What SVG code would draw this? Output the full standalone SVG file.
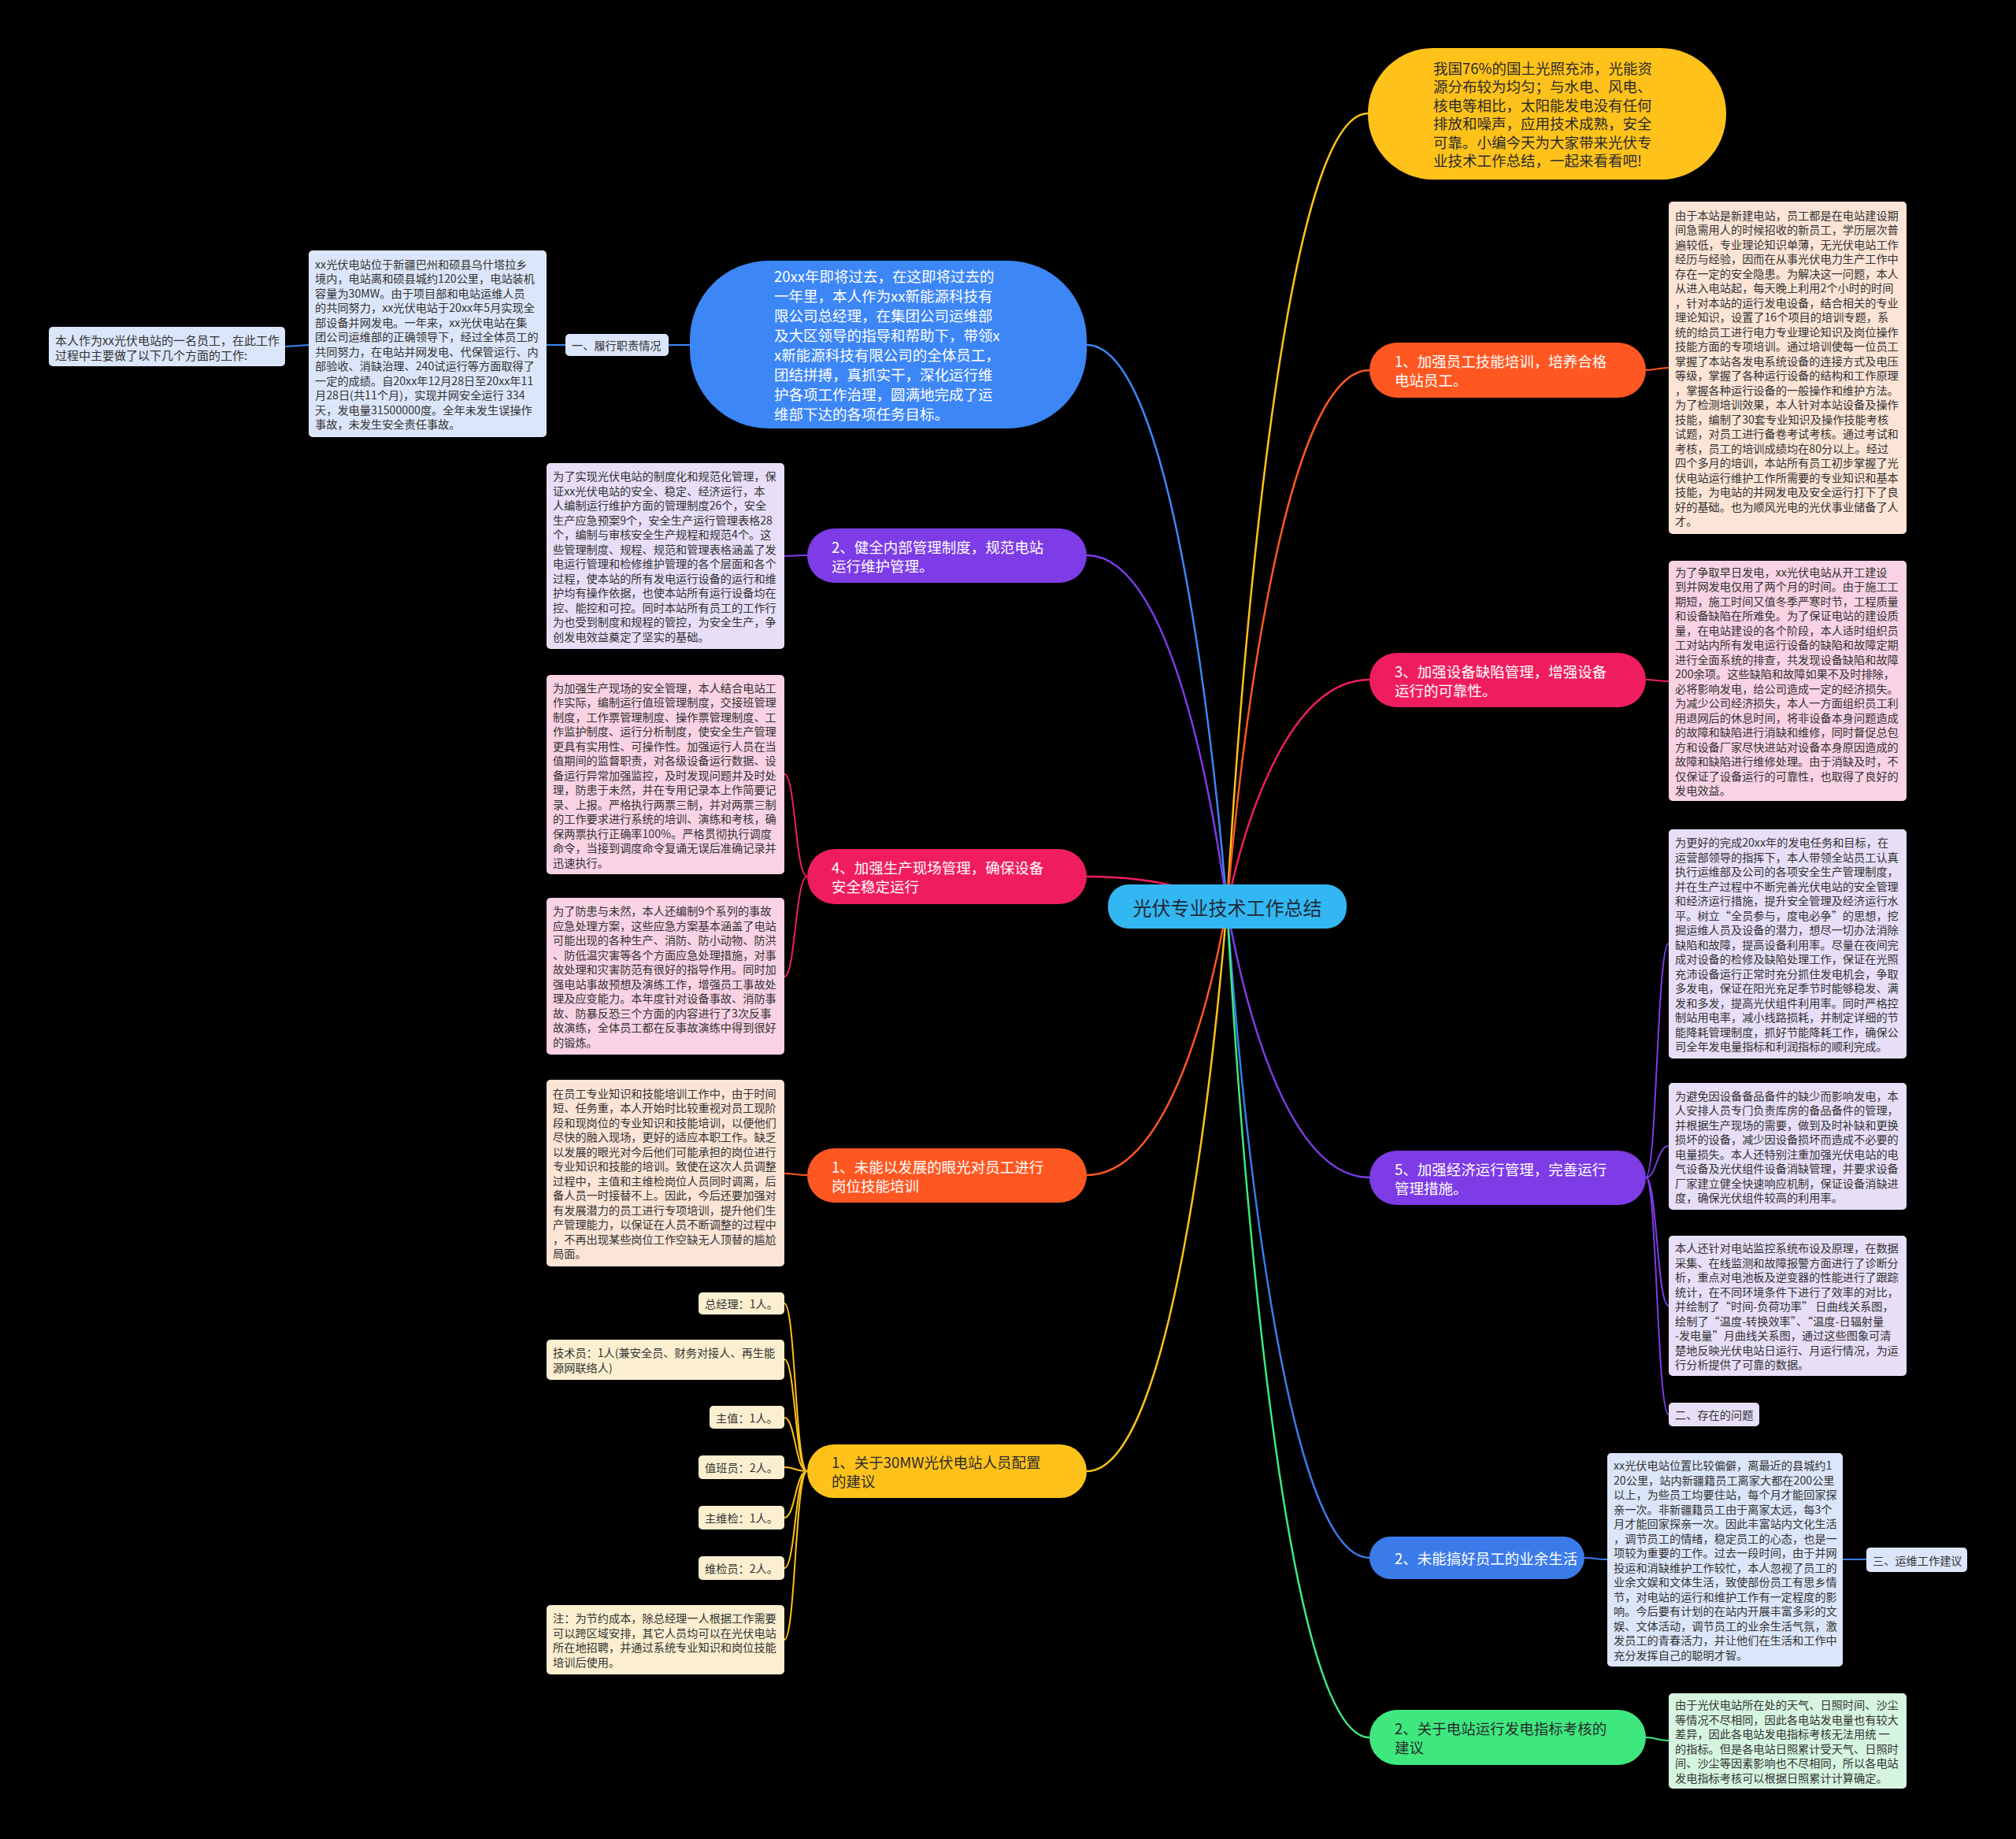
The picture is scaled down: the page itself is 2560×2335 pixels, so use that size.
<svg xmlns="http://www.w3.org/2000/svg" width="2560" height="2335" viewBox="0 0 2560 2335">
<style>
text{font-family:'Noto Sans CJK SC','Noto Sans',sans-serif;dominant-baseline:central}
.s{font-size:14.2px;fill:#333}
.n{font-size:18.5px}
.w{fill:#fff}
.d{fill:#2b2b2b}
.c{fill:none;stroke-width:2.5}
.c2{fill:none;stroke-width:2}
.lb{fill:#DCE6FA}.pe{fill:#FCE4D6}.pk{fill:#F9D2E3}.lv{fill:#E7DFF8}.cr{fill:#FBEFD0}.lg{fill:#D6F5E0}
</style>
<rect width="2560" height="2335" fill="#000"/>
<g id="connectors">
<path class="c" stroke="#FFC21A" d="M1558,1151 C1576,849 1630,144 1737,144"/>
<path class="c" stroke="#FF5722" d="M1558,1151 C1576,947 1630,470 1739,470"/>
<path class="c" stroke="#F01D5E" d="M1558,1151 C1576,1065 1630,863 1739,863"/>
<path class="c" stroke="#7D3CE6" d="M1558,1151 C1576,1254 1630,1495 1739,1495"/>
<path class="c" stroke="#3B7BE9" d="M1558,1151 C1576,1399 1630,1978 1739,1978"/>
<path class="c" stroke="#3EE87F" d="M1558,1151 C1576,1468 1630,2206 1739,2206"/>
<path class="c" stroke="#3D86F6" d="M1558,1151 C1540,937 1487,438 1380,438"/>
<path class="c" stroke="#7D3CE6" d="M1558,1151 C1540,1017 1487,705 1380,705"/>
<path class="c" stroke="#F01D5E" d="M1558,1151 C1540,1140 1487,1113 1380,1113"/>
<path class="c" stroke="#FF5722" d="M1558,1151 C1540,1253 1487,1492 1380,1492"/>
<path class="c" stroke="#FFC21A" d="M1558,1151 C1540,1366 1487,1868 1380,1868"/>
<path class="c2" stroke="#FF5722" d="M2090,470 C2104,470 2104,467 2119,467"/>
<path class="c2" stroke="#F01D5E" d="M2090,863 C2104,863 2104,865 2119,865"/>
<path class="c2" stroke="#7D3CE6" d="M2090,1495 C2104,1495 2104,1198 2119,1198 M2090,1495 C2104,1495 2104,1455 2119,1455 M2090,1495 C2104,1495 2104,1658 2119,1658 M2090,1495 C2104,1495 2104,1796 2119,1796"/>
<path class="c2" stroke="#3B7BE9" d="M2012,1978 C2026,1978 2026,1980 2041,1980 M2340,1980 L2370,1980"/>
<path class="c2" stroke="#3EE87F" d="M2090,2206 C2104,2206 2104,2210 2119,2210"/>
<path class="c2" stroke="#3D86F6" d="M876,438 L849,438 M718,438 L694,438 M392,438 L362,440"/>
<path class="c2" stroke="#7D3CE6" d="M1025,705 C1010,705 1010,706 996,706"/>
<path class="c2" stroke="#F01D5E" d="M1025,1113 C1010,1113 1010,983 996,983 M1025,1113 C1010,1113 1010,1240 996,1240"/>
<path class="c2" stroke="#FF5722" d="M1025,1492 C1010,1492 1010,1490 996,1490"/>
<path class="c2" stroke="#FFC21A" d="M1025,1868 C1010,1868 1010,1655 996,1655 M1025,1868 C1010,1868 1010,1726 996,1726 M1025,1868 C1010,1868 1010,1800 996,1800 M1025,1868 C1010,1868 1010,1863 996,1863 M1025,1868 C1010,1868 1010,1927 996,1927 M1025,1868 C1010,1868 1010,1991 996,1991 M1025,1868 C1010,1868 1010,2082 996,2082"/>
</g>
<g id="center">
<rect x="1407" y="1123" width="303" height="56" rx="26" fill="#33B7F2"/>
<text x="1558.5" y="1151" text-anchor="middle" style="font-size:24px;fill:#1e2a3a">光伏专业技术工作总结</text>
</g>
<g id="intro">
<rect x="1737" y="61" width="455" height="167" rx="83" fill="#FFC21A"/>
<text class="n d"><tspan x="1820" y="85.8">我国76%的国土光照充沛，光能资</tspan><tspan x="1820" y="109.3">源分布较为均匀；与水电、风电、</tspan><tspan x="1820" y="132.8">核电等相比，太阳能发电没有任何</tspan><tspan x="1820" y="156.3">排放和噪声，应用技术成熟，安全</tspan><tspan x="1820" y="179.8">可靠。小编今天为大家带来光伏专</tspan><tspan x="1820" y="203.3">业技术工作总结，一起来看看吧!</tspan></text>
</g>
<g id="r1">
<rect x="1739" y="435" width="351" height="70" rx="35" fill="#FF5722"/>
<text class="n w"><tspan x="1771" y="458">1、加强员工技能培训，培养合格</tspan><tspan x="1771" y="482">电站员工。</tspan></text>
</g>
<g id="r1-detail">
<rect x="2119" y="256" width="302" height="422" rx="5" class="pe"/>
<text class="s"><tspan x="2127" y="272.8">由于本站是新建电站，员工都是在电站建设期</tspan><tspan x="2127" y="291.3">间急需用人的时候招收的新员工，学历层次普</tspan><tspan x="2127" y="309.8">遍较低，专业理论知识单薄，无光伏电站工作</tspan><tspan x="2127" y="328.3">经历与经验，因而在从事光伏电力生产工作中</tspan><tspan x="2127" y="346.8">存在一定的安全隐患。为解决这一问题，本人</tspan><tspan x="2127" y="365.3">从进入电站起，每天晚上利用2个小时的时间</tspan><tspan x="2127" y="383.8">，针对本站的运行发电设备，结合相关的专业</tspan><tspan x="2127" y="402.3">理论知识，设置了16个项目的培训专题，系</tspan><tspan x="2127" y="420.8">统的给员工进行电力专业理论知识及岗位操作</tspan><tspan x="2127" y="439.3">技能方面的专项培训。通过培训使每一位员工</tspan><tspan x="2127" y="457.8">掌握了本站各发电系统设备的连接方式及电压</tspan><tspan x="2127" y="476.3">等级，掌握了各种运行设备的结构和工作原理</tspan><tspan x="2127" y="494.8">，掌握各种运行设备的一般操作和维护方法。</tspan><tspan x="2127" y="513.3">为了检测培训效果，本人针对本站设备及操作</tspan><tspan x="2127" y="531.8">技能，编制了30套专业知识及操作技能考核</tspan><tspan x="2127" y="550.3">试题，对员工进行备卷考试考核。通过考试和</tspan><tspan x="2127" y="568.8">考核，员工的培训成绩均在80分以上。经过</tspan><tspan x="2127" y="587.3">四个多月的培训，本站所有员工初步掌握了光</tspan><tspan x="2127" y="605.8">伏电站运行维护工作所需要的专业知识和基本</tspan><tspan x="2127" y="624.3">技能，为电站的并网发电及安全运行打下了良</tspan><tspan x="2127" y="642.8">好的基础。也为顺风光电的光伏事业储备了人</tspan><tspan x="2127" y="661.3">才。</tspan></text>
</g>
<g id="r3">
<rect x="1739" y="829" width="351" height="69" rx="34.5" fill="#F01D5E"/>
<text class="n w"><tspan x="1771" y="851.5">3、加强设备缺陷管理，增强设备</tspan><tspan x="1771" y="875.5">运行的可靠性。</tspan></text>
</g>
<g id="r3-detail">
<rect x="2119" y="712" width="302" height="305" rx="5" class="pk"/>
<text class="s"><tspan x="2127" y="725.8">为了争取早日发电，xx光伏电站从开工建设</tspan><tspan x="2127" y="744.3">到并网发电仅用了两个月的时间。由于施工工</tspan><tspan x="2127" y="762.8">期短，施工时间又值冬季严寒时节，工程质量</tspan><tspan x="2127" y="781.3">和设备缺陷在所难免。为了保证电站的建设质</tspan><tspan x="2127" y="799.8">量，在电站建设的各个阶段，本人适时组织员</tspan><tspan x="2127" y="818.3">工对站内所有发电运行设备的缺陷和故障定期</tspan><tspan x="2127" y="836.8">进行全面系统的排查，共发现设备缺陷和故障</tspan><tspan x="2127" y="855.3">200余项。这些缺陷和故障如果不及时排除，</tspan><tspan x="2127" y="873.8">必将影响发电，给公司造成一定的经济损失。</tspan><tspan x="2127" y="892.3">为减少公司经济损失，本人一方面组织员工利</tspan><tspan x="2127" y="910.8">用退网后的休息时间，将非设备本身问题造成</tspan><tspan x="2127" y="929.3">的故障和缺陷进行消缺和维修，同时督促总包</tspan><tspan x="2127" y="947.8">方和设备厂家尽快进站对设备本身原因造成的</tspan><tspan x="2127" y="966.3">故障和缺陷进行维修处理。由于消缺及时，不</tspan><tspan x="2127" y="984.8">仅保证了设备运行的可靠性，也取得了良好的</tspan><tspan x="2127" y="1003.3">发电效益。</tspan></text>
</g>
<g id="r5">
<rect x="1739" y="1461" width="351" height="69" rx="34.5" fill="#7D3CE6"/>
<text class="n w"><tspan x="1771" y="1483.5">5、加强经济运行管理，完善运行</tspan><tspan x="1771" y="1507.5">管理措施。</tspan></text>
</g>
<g id="r5-detail-1">
<rect x="2119" y="1053" width="302" height="291" rx="5" class="lv"/>
<text class="s"><tspan x="2127" y="1069">为更好的完成20xx年的发电任务和目标，在</tspan><tspan x="2127" y="1087.5">运营部领导的指挥下，本人带领全站员工认真</tspan><tspan x="2127" y="1106">执行运维部及公司的各项安全生产管理制度，</tspan><tspan x="2127" y="1124.5">并在生产过程中不断完善光伏电站的安全管理</tspan><tspan x="2127" y="1143">和经济运行措施，提升安全管理及经济运行水</tspan><tspan x="2127" y="1161.5">平。树立“全员参与，度电必争”的思想，挖</tspan><tspan x="2127" y="1180">掘运维人员及设备的潜力，想尽一切办法消除</tspan><tspan x="2127" y="1198.5">缺陷和故障，提高设备利用率。尽量在夜间完</tspan><tspan x="2127" y="1217">成对设备的检修及缺陷处理工作，保证在光照</tspan><tspan x="2127" y="1235.5">充沛设备运行正常时充分抓住发电机会，争取</tspan><tspan x="2127" y="1254">多发电，保证在阳光充足季节时能够稳发、满</tspan><tspan x="2127" y="1272.5">发和多发，提高光伏组件利用率。同时严格控</tspan><tspan x="2127" y="1291">制站用电率，减小线路损耗，并制定详细的节</tspan><tspan x="2127" y="1309.5">能降耗管理制度，抓好节能降耗工作，确保公</tspan><tspan x="2127" y="1328">司全年发电量指标和利润指标的顺利完成。</tspan></text>
</g>
<g id="r5-detail-2">
<rect x="2119" y="1375" width="302" height="161" rx="5" class="lv"/>
<text class="s"><tspan x="2127" y="1390.8">为避免因设备备品备件的缺少而影响发电，本</tspan><tspan x="2127" y="1409.3">人安排人员专门负责库房的备品备件的管理，</tspan><tspan x="2127" y="1427.8">并根据生产现场的需要，做到及时补缺和更换</tspan><tspan x="2127" y="1446.3">损坏的设备，减少因设备损坏而造成不必要的</tspan><tspan x="2127" y="1464.8">电量损失。本人还特别注重加强光伏电站的电</tspan><tspan x="2127" y="1483.3">气设备及光伏组件设备消缺管理，并要求设备</tspan><tspan x="2127" y="1501.8">厂家建立健全快速响应机制，保证设备消缺进</tspan><tspan x="2127" y="1520.3">度，确保光伏组件较高的利用率。</tspan></text>
</g>
<g id="r5-detail-3">
<rect x="2119" y="1569" width="302" height="178" rx="5" class="lv"/>
<text class="s"><tspan x="2127" y="1584">本人还针对电站监控系统布设及原理，在数据</tspan><tspan x="2127" y="1602.5">采集、在线监测和故障报警方面进行了诊断分</tspan><tspan x="2127" y="1621">析，重点对电池板及逆变器的性能进行了跟踪</tspan><tspan x="2127" y="1639.5">统计，在不同环境条件下进行了效率的对比，</tspan><tspan x="2127" y="1658">并绘制了“时间-负荷功率” 日曲线关系图，</tspan><tspan x="2127" y="1676.5">绘制了“温度-转换效率”、“温度-日辐射量</tspan><tspan x="2127" y="1695">-发电量”月曲线关系图，通过这些图象可清</tspan><tspan x="2127" y="1713.5">楚地反映光伏电站日运行、月运行情况，为运</tspan><tspan x="2127" y="1732">行分析提供了可靠的数据。</tspan></text>
</g>
<g id="r5-problems">
<rect x="2119" y="1781" width="115" height="30" rx="5" class="lv"/>
<text class="s" x="2127" y="1796">二、存在的问题</text>
</g>
<g id="r2">
<rect x="1739" y="1951" width="273" height="54" rx="27" fill="#3B7BE9"/>
<text class="n w" x="1771" y="1978">2、未能搞好员工的业余生活</text>
</g>
<g id="r2-detail">
<rect x="2041" y="1845" width="299" height="271" rx="5" class="lb"/>
<text class="s"><tspan x="2049" y="1860.3">xx光伏电站位置比较偏僻，离最近的县城约1</tspan><tspan x="2049" y="1878.8">20公里，站内新疆籍员工离家大都在200公里</tspan><tspan x="2049" y="1897.3">以上，为些员工均要住站，每个月才能回家探</tspan><tspan x="2049" y="1915.8">亲一次。非新疆籍员工由于离家太远，每3个</tspan><tspan x="2049" y="1934.3">月才能回家探亲一次。因此丰富站内文化生活</tspan><tspan x="2049" y="1952.8">，调节员工的情绪，稳定员工的心态，也是一</tspan><tspan x="2049" y="1971.3">项较为重要的工作。过去一段时间，由于并网</tspan><tspan x="2049" y="1989.8">投运和消缺维护工作较忙，本人忽视了员工的</tspan><tspan x="2049" y="2008.3">业余文娱和文体生活，致使部份员工有思乡情</tspan><tspan x="2049" y="2026.8">节，对电站的运行和维护工作有一定程度的影</tspan><tspan x="2049" y="2045.3">响。今后要有计划的在站内开展丰富多彩的文</tspan><tspan x="2049" y="2063.8">娱、文体活动，调节员工的业余生活气氛，激</tspan><tspan x="2049" y="2082.3">发员工的青春活力，并让他们在生活和工作中</tspan><tspan x="2049" y="2100.8">充分发挥自己的聪明才智。</tspan></text>
</g>
<g id="r2-section">
<rect x="2370" y="1965" width="128" height="31" rx="5" class="lb"/>
<text class="s" x="2378" y="1980.5">三、运维工作建议</text>
</g>
<g id="rg">
<rect x="1739" y="2171" width="351" height="70" rx="35" fill="#3EE87F"/>
<text class="n d"><tspan x="1771" y="2194">2、关于电站运行发电指标考核的</tspan><tspan x="1771" y="2218">建议</tspan></text>
</g>
<g id="rg-detail">
<rect x="2119" y="2150" width="302" height="121" rx="5" class="lg"/>
<text class="s"><tspan x="2127" y="2164.3">由于光伏电站所在处的天气、日照时间、沙尘</tspan><tspan x="2127" y="2182.8">等情况不尽相同，因此各电站发电量也有较大</tspan><tspan x="2127" y="2201.3">差异，因此各电站发电指标考核无法用统 一</tspan><tspan x="2127" y="2219.8">的指标。但是各电站日照累计受天气、日照时</tspan><tspan x="2127" y="2238.3">间、沙尘等因素影响也不尽相同，所以各电站</tspan><tspan x="2127" y="2256.8">发电指标考核可以根据日照累计计算确定。</tspan></text>
</g>
<g id="l-blue">
<rect x="876" y="331" width="504" height="213" rx="100" fill="#3D86F6"/>
<text class="n w"><tspan x="983" y="350">20xx年即将过去，在这即将过去的</tspan><tspan x="983" y="375">一年里，本人作为xx新能源科技有</tspan><tspan x="983" y="400">限公司总经理，在集团公司运维部</tspan><tspan x="983" y="425">及大区领导的指导和帮助下，带领x</tspan><tspan x="983" y="450">x新能源科技有限公司的全体员工，</tspan><tspan x="983" y="475">团结拼搏，真抓实干，深化运行维</tspan><tspan x="983" y="500">护各项工作治理，圆满地完成了运</tspan><tspan x="983" y="525">维部下达的各项任务目标。</tspan></text>
</g>
<g id="l-section">
<rect x="718" y="424" width="131" height="28" rx="5" class="lb"/>
<text class="s" x="726" y="438">一、履行职责情况</text>
</g>
<g id="l-station">
<rect x="392" y="318" width="302" height="237" rx="5" class="lb"/>
<text class="s"><tspan x="400" y="334.8">xx光伏电站位于新疆巴州和硕县乌什塔拉乡</tspan><tspan x="400" y="353.3">境内，电站离和硕县城约120公里，电站装机</tspan><tspan x="400" y="371.8">容量为30MW。由于项目部和电站运维人员</tspan><tspan x="400" y="390.3">的共同努力，xx光伏电站于20xx年5月实现全</tspan><tspan x="400" y="408.8">部设备并网发电。一年来，xx光伏电站在集</tspan><tspan x="400" y="427.3">团公司运维部的正确领导下，经过全体员工的</tspan><tspan x="400" y="445.8">共同努力，在电站并网发电、代保管运行、内</tspan><tspan x="400" y="464.3">部验收、消缺治理、240试运行等方面取得了</tspan><tspan x="400" y="482.8">一定的成绩。自20xx年12月28日至20xx年11</tspan><tspan x="400" y="501.3">月28日(共11个月)，实现并网安全运行 334</tspan><tspan x="400" y="519.8">天，发电量31500000度。全年未发生误操作</tspan><tspan x="400" y="538.3">事故，未发生安全责任事故。</tspan></text>
</g>
<g id="l-intro">
<rect x="62" y="415" width="300" height="50" rx="5" class="lb"/>
<text class="s" style="font-size:15px"><tspan x="70" y="430.5">本人作为xx光伏电站的一名员工，在此工作</tspan><tspan x="70" y="449.5">过程中主要做了以下几个方面的工作:</tspan></text>
</g>
<g id="l-purple">
<rect x="1025" y="671" width="355" height="69" rx="34.5" fill="#7D3CE6"/>
<text class="n w"><tspan x="1056" y="693.5">2、健全内部管理制度，规范电站</tspan><tspan x="1056" y="717.5">运行维护管理。</tspan></text>
</g>
<g id="l-purple-detail">
<rect x="694" y="588" width="302" height="236" rx="5" class="lv"/>
<text class="s"><tspan x="702" y="604.3">为了实现光伏电站的制度化和规范化管理，保</tspan><tspan x="702" y="622.8">证xx光伏电站的安全、稳定、经济运行，本</tspan><tspan x="702" y="641.3">人编制运行维护方面的管理制度26个，安全</tspan><tspan x="702" y="659.8">生产应急预案9个，安全生产运行管理表格28</tspan><tspan x="702" y="678.3">个，编制与审核安全生产规程和规范4个。这</tspan><tspan x="702" y="696.8">些管理制度、规程、规范和管理表格涵盖了发</tspan><tspan x="702" y="715.3">电运行管理和检修维护管理的各个层面和各个</tspan><tspan x="702" y="733.8">过程，使本站的所有发电运行设备的运行和维</tspan><tspan x="702" y="752.3">护均有操作依据，也使本站所有运行设备均在</tspan><tspan x="702" y="770.8">控、能控和可控。同时本站所有员工的工作行</tspan><tspan x="702" y="789.3">为也受到制度和规程的管控，为安全生产，争</tspan><tspan x="702" y="807.8">创发电效益奠定了坚实的基础。</tspan></text>
</g>
<g id="l-crimson">
<rect x="1025" y="1078" width="355" height="70" rx="35" fill="#F01D5E"/>
<text class="n w"><tspan x="1056" y="1101">4、加强生产现场管理，确保设备</tspan><tspan x="1056" y="1125">安全稳定运行</tspan></text>
</g>
<g id="l-crimson-detail-1">
<rect x="694" y="857" width="302" height="253" rx="5" class="pk"/>
<text class="s"><tspan x="702" y="872.5">为加强生产现场的安全管理，本人结合电站工</tspan><tspan x="702" y="891">作实际，编制运行值班管理制度，交接班管理</tspan><tspan x="702" y="909.5">制度，工作票管理制度、操作票管理制度、工</tspan><tspan x="702" y="928">作监护制度、运行分析制度，使安全生产管理</tspan><tspan x="702" y="946.5">更具有实用性、可操作性。加强运行人员在当</tspan><tspan x="702" y="965">值期间的监督职责，对各级设备运行数据、设</tspan><tspan x="702" y="983.5">备运行异常加强监控，及时发现问题并及时处</tspan><tspan x="702" y="1002">理，防患于未然，并在专用记录本上作简要记</tspan><tspan x="702" y="1020.5">录、上报。严格执行两票三制，并对两票三制</tspan><tspan x="702" y="1039">的工作要求进行系统的培训、演练和考核，确</tspan><tspan x="702" y="1057.5">保两票执行正确率100%。严格贯彻执行调度</tspan><tspan x="702" y="1076">命令，当接到调度命令复诵无误后准确记录并</tspan><tspan x="702" y="1094.5">迅速执行。</tspan></text>
</g>
<g id="l-crimson-detail-2">
<rect x="694" y="1140" width="302" height="199" rx="5" class="pk"/>
<text class="s"><tspan x="702" y="1156.3">为了防患与未然，本人还编制9个系列的事故</tspan><tspan x="702" y="1174.8">应急处理方案，这些应急方案基本涵盖了电站</tspan><tspan x="702" y="1193.3">可能出现的各种生产、消防、防小动物、防洪</tspan><tspan x="702" y="1211.8">、防低温灾害等各个方面应急处理措施，对事</tspan><tspan x="702" y="1230.3">故处理和灾害防范有很好的指导作用。同时加</tspan><tspan x="702" y="1248.8">强电站事故预想及演练工作，增强员工事故处</tspan><tspan x="702" y="1267.3">理及应变能力。本年度针对设备事故、消防事</tspan><tspan x="702" y="1285.8">故、防暴反恐三个方面的内容进行了3次反事</tspan><tspan x="702" y="1304.3">故演练，全体员工都在反事故演练中得到很好</tspan><tspan x="702" y="1322.8">的锻炼。</tspan></text>
</g>
<g id="l-orange">
<rect x="1025" y="1458" width="355" height="69" rx="34.5" fill="#FF5722"/>
<text class="n w"><tspan x="1056" y="1480.5">1、未能以发展的眼光对员工进行</tspan><tspan x="1056" y="1504.5">岗位技能培训</tspan></text>
</g>
<g id="l-orange-detail">
<rect x="694" y="1371" width="302" height="237" rx="5" class="pe"/>
<text class="s"><tspan x="702" y="1387.8">在员工专业知识和技能培训工作中，由于时间</tspan><tspan x="702" y="1406.3">短、任务重，本人开始时比较重视对员工现阶</tspan><tspan x="702" y="1424.8">段和现岗位的专业知识和技能培训，以便他们</tspan><tspan x="702" y="1443.3">尽快的融入现场，更好的适应本职工作。缺乏</tspan><tspan x="702" y="1461.8">以发展的眼光对今后他们可能承担的岗位进行</tspan><tspan x="702" y="1480.3">专业知识和技能的培训。致使在这次人员调整</tspan><tspan x="702" y="1498.8">过程中，主值和主维检岗位人员同时调离，后</tspan><tspan x="702" y="1517.3">备人员一时接替不上。因此，今后还要加强对</tspan><tspan x="702" y="1535.8">有发展潜力的员工进行专项培训，提升他们生</tspan><tspan x="702" y="1554.3">产管理能力，以保证在人员不断调整的过程中</tspan><tspan x="702" y="1572.8">，不再出现某些岗位工作空缺无人顶替的尴尬</tspan><tspan x="702" y="1591.3">局面。</tspan></text>
</g>
<g id="l-yellow">
<rect x="1025" y="1834" width="355" height="68" rx="34" fill="#FFC21A"/>
<text class="n d"><tspan x="1056" y="1856">1、关于30MW光伏电站人员配置</tspan><tspan x="1056" y="1880">的建议</tspan></text>
</g>
<g id="staff-gm">
<rect x="887" y="1641" width="109" height="28" rx="5" class="cr"/>
<text class="s" x="895" y="1655">总经理：1人。</text>
</g>
<g id="staff-tech">
<rect x="694" y="1701" width="302" height="51" rx="5" class="cr"/>
<text class="s"><tspan x="702" y="1717.3">技术员：1人(兼安全员、财务对接人、再生能</tspan><tspan x="702" y="1735.8">源网联络人)</tspan></text>
</g>
<g id="staff-main">
<rect x="901" y="1785" width="95" height="29" rx="5" class="cr"/>
<text class="s" x="909" y="1799.5">主值：1人。</text>
</g>
<g id="staff-duty">
<rect x="887" y="1848" width="109" height="30" rx="5" class="cr"/>
<text class="s" x="895" y="1863">值班员：2人。</text>
</g>
<g id="staff-mainmaint">
<rect x="887" y="1912" width="109" height="30" rx="5" class="cr"/>
<text class="s" x="895" y="1927">主维检：1人。</text>
</g>
<g id="staff-maint">
<rect x="887" y="1976" width="109" height="30" rx="5" class="cr"/>
<text class="s" x="895" y="1991">维检员：2人。</text>
</g>
<g id="staff-note">
<rect x="694" y="2038" width="302" height="88" rx="5" class="cr"/>
<text class="s"><tspan x="702" y="2054.3">注：为节约成本，除总经理一人根据工作需要</tspan><tspan x="702" y="2072.8">可以跨区域安排，其它人员均可以在光伏电站</tspan><tspan x="702" y="2091.3">所在地招聘，并通过系统专业知识和岗位技能</tspan><tspan x="702" y="2109.8">培训后使用。</tspan></text>
</g>
</svg>
